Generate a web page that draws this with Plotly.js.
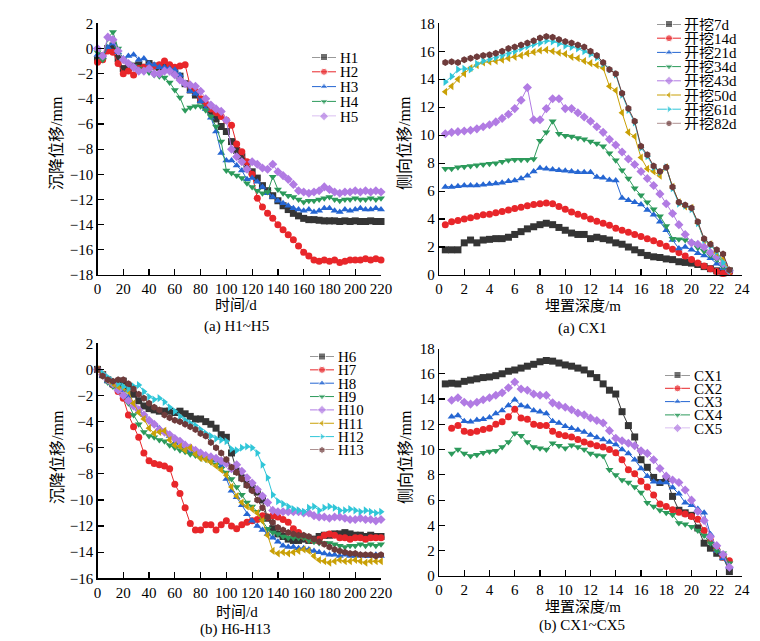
<!DOCTYPE html>
<html><head><meta charset="utf-8">
<script src="https://cdn.plot.ly/plotly-3.0.1.min.js"></script>
<style>html,body{margin:0;padding:0;background:#fff}#c{width:760px;height:641px}</style>
</head><body><div id="c"></div>
<script>
// ---------- data ----------
const days = [0,4,8,12,16,20,24,28,32,36,40,44,48,52,56,60,64,68,72,76,80,84,88,92,96,100,104,108,112,116,120,124,128,132,136,140,144,148,152,156,160,164,168,172,176,180,184,188,192,196,200,204,208,212,216,220];
const H1 = [-0.9,-0.6,0.0,0.2,-0.8,-1.6,-1.5,-1.4,-1.3,-1.5,-1.2,-1.4,-1.5,-1.5,-1.6,-1.8,-2.2,-2.8,-3.3,-3.7,-4.1,-4.5,-5.0,-5.6,-6.2,-6.6,-7.4,-8.1,-8.6,-9.2,-9.8,-10.3,-10.9,-11.3,-11.7,-12.1,-12.5,-12.8,-13.1,-13.3,-13.5,-13.6,-13.6,-13.65,-13.7,-13.7,-13.7,-13.75,-13.7,-13.75,-13.7,-13.75,-13.75,-13.7,-13.75,-13.75];
const H2 = [-1.1,-0.9,-0.2,-0.3,-1.2,-2.0,-1.8,-2.1,-1.6,-1.5,-1.5,-1.4,-1.3,-1.0,-1.3,-1.5,-1.4,-1.3,-3.0,-3.4,-4.0,-4.4,-4.8,-5.1,-5.4,-5.7,-6.1,-7.6,-8.2,-9.0,-10.0,-11.9,-12.6,-13.1,-13.5,-14.0,-14.4,-14.8,-15.2,-15.7,-16.2,-16.5,-16.8,-16.9,-16.8,-16.9,-16.8,-17.0,-16.9,-16.8,-16.8,-16.8,-16.7,-16.8,-16.7,-16.8];
const H3 = [-0.5,-0.7,0.1,0.4,-0.3,-0.8,-0.6,-0.5,-0.9,-0.8,-1.2,-1.3,-1.5,-1.5,-1.6,-1.7,-2.1,-2.8,-3.4,-3.6,-4.2,-4.8,-5.5,-6.6,-8.3,-8.9,-8.9,-9.3,-9.7,-10.4,-10.3,-10.6,-11.0,-11.5,-11.8,-12.1,-12.3,-12.5,-12.7,-12.8,-12.9,-12.8,-13.0,-12.9,-12.7,-12.7,-12.9,-13.0,-12.8,-12.9,-12.8,-12.7,-12.8,-12.8,-12.7,-12.8];
const H4 = [-0.3,-0.9,0.8,1.3,0.0,-0.9,-1.2,-1.4,-1.6,-1.8,-1.9,-2.1,-2.2,-2.3,-2.7,-3.3,-3.9,-4.9,-4.7,-4.6,-4.6,-4.9,-5.4,-6.2,-7.4,-9.7,-9.9,-10.1,-10.3,-10.7,-11.0,-11.3,-11.5,-11.4,-10.2,-11.2,-11.5,-11.7,-11.8,-12.0,-12.2,-12.1,-12.1,-12.0,-11.9,-11.8,-12.0,-12.1,-12.0,-12.0,-11.9,-12.0,-12.0,-11.9,-12.0,-11.9];
const H5 = [0.0,-0.6,0.9,0.7,-0.2,-0.9,-1.2,-1.5,-1.8,-1.8,-1.6,-2.0,-2.0,-1.8,-1.8,-2.1,-2.5,-2.8,-2.9,-3.0,-3.4,-4.0,-4.5,-4.8,-5.0,-5.7,-8.0,-8.6,-9.0,-9.6,-9.0,-9.2,-9.5,-9.6,-9.2,-9.8,-10.1,-10.4,-10.8,-11.3,-11.4,-11.5,-11.4,-11.3,-11.0,-11.2,-11.4,-11.5,-11.4,-11.4,-11.3,-11.4,-11.3,-11.4,-11.3,-11.4];

const H6 = [0,-0.4,-0.8,-1.1,-1.2,-0.9,-1.3,-1.9,-2.4,-2.8,-3.0,-3.1,-3.2,-3.2,-3.2,-3.3,-3.2,-3.4,-3.6,-3.8,-3.8,-4.0,-4.2,-4.5,-5.0,-5.2,-6.4,-7.8,-8.3,-8.8,-9.1,-9.4,-10.0,-11.4,-12.2,-12.6,-12.8,-13.0,-13.1,-13.1,-13.0,-13.1,-13.0,-12.8,-12.7,-12.7,-12.6,-12.6,-12.5,-12.6,-12.7,-12.7,-12.8,-12.7,-12.8,-12.8];
const H7 = [0,-0.4,-0.8,-1.2,-1.7,-2.2,-3.5,-4.4,-5.2,-6.4,-7.0,-7.2,-7.3,-7.4,-7.6,-8.8,-9.5,-10.6,-11.8,-12.3,-12.3,-11.9,-11.9,-12.3,-11.9,-11.6,-12.0,-12.2,-11.9,-11.7,-11.6,-11.5,-11.2,-11.3,-11.2,-11.3,-11.5,-11.7,-12.2,-12.5,-12.8,-13.0,-13.1,-13.0,-12.7,-12.6,-12.7,-12.9,-12.9,-13.0,-12.9,-12.9,-13.0,-12.9,-12.9,-12.9];
const H8 = [0,-0.5,-0.9,-1.2,-1.5,-1.6,-2.1,-2.7,-3.2,-3.5,-3.9,-4.2,-4.5,-4.8,-5.1,-5.6,-5.9,-6.1,-6.3,-6.4,-6.6,-6.7,-6.9,-7.0,-7.4,-8.4,-9.3,-9.8,-10.4,-11.1,-11.6,-12.0,-12.3,-12.6,-12.9,-13.2,-13.5,-13.6,-13.6,-13.7,-13.7,-13.8,-13.9,-14.0,-14.1,-14.2,-14.2,-14.3,-14.2,-14.3,-14.3,-14.2,-14.3,-14.3,-14.2,-14.3];
const H9 = [0,-0.5,-1.0,-1.3,-1.6,-2.0,-2.6,-3.5,-4.2,-4.8,-5.1,-5.2,-5.4,-5.5,-5.8,-6.0,-6.2,-6.3,-6.5,-6.6,-6.8,-6.9,-7.1,-7.3,-7.6,-7.9,-8.4,-9.0,-9.6,-10.2,-10.5,-10.9,-11.6,-12.2,-12.5,-12.6,-12.8,-12.9,-12.9,-12.9,-12.9,-13.1,-13.2,-13.3,-13.3,-13.3,-13.4,-13.5,-13.6,-13.5,-13.5,-13.4,-13.5,-13.4,-13.5,-13.4];
const H10 = [0,-0.4,-0.8,-1.1,-1.6,-2.0,-2.4,-2.8,-3.1,-3.5,-3.9,-4.2,-4.6,-4.8,-5.0,-5.3,-5.5,-5.8,-6.0,-6.2,-6.4,-6.6,-6.7,-6.8,-7.0,-7.2,-7.6,-7.3,-7.8,-8.3,-8.7,-9.2,-9.7,-10.2,-10.8,-10.9,-10.9,-10.9,-10.9,-10.9,-11.0,-11.0,-11.2,-11.3,-11.3,-11.4,-11.3,-11.3,-11.4,-11.5,-11.5,-11.4,-11.5,-11.5,-11.6,-11.5];
const H11 = [0,-0.4,-0.8,-1.1,-1.3,-1.4,-1.7,-2.6,-3.3,-3.8,-4.5,-4.9,-4.8,-4.7,-5.4,-5.8,-5.9,-6.2,-6.0,-6.5,-6.8,-6.9,-7.1,-7.4,-7.7,-8.1,-9.0,-9.7,-10.2,-10.5,-10.7,-11.0,-11.6,-12.7,-13.9,-14.1,-14.0,-14.1,-14.0,-13.9,-13.8,-13.9,-14.3,-14.6,-14.7,-14.8,-14.7,-14.6,-14.7,-14.7,-14.6,-14.7,-14.8,-14.7,-14.7,-14.7];
const H12 = [0,-0.3,-0.6,-0.9,-1.1,-1.3,-1.5,-1.3,-1.2,-1.7,-2.1,-2.3,-2.2,-2.5,-2.9,-3.2,-3.6,-3.9,-4.1,-4.3,-4.6,-4.9,-5.1,-5.3,-5.4,-5.5,-6.1,-6.2,-6.0,-5.9,-6.0,-6.4,-7.3,-8.3,-9.6,-10.1,-10.3,-10.5,-10.7,-10.8,-10.9,-10.6,-10.5,-10.8,-10.6,-10.5,-10.6,-10.8,-10.8,-10.7,-10.8,-10.9,-10.8,-10.9,-11.0,-10.9];
const H13 = [0,-0.5,-0.8,-0.9,-0.8,-0.8,-1.1,-1.5,-1.9,-2.2,-2.6,-2.9,-3.1,-3.5,-3.7,-3.9,-4.0,-4.2,-4.4,-4.6,-4.9,-5.1,-5.6,-6.0,-6.4,-6.9,-7.5,-7.9,-8.4,-8.9,-9.3,-10.0,-10.6,-11.3,-11.7,-12.1,-12.3,-12.5,-12.6,-12.7,-12.7,-12.8,-13.0,-13.2,-13.4,-13.6,-13.8,-13.9,-14.0,-14.1,-14.1,-14.2,-14.2,-14.2,-14.3,-14.2];

const depth = [0.5,1,1.5,2,2.5,3,3.5,4,4.5,5,5.5,6,6.5,7,7.5,8,8.5,9,9.5,10,10.5,11,11.5,12,12.5,13,13.5,14,14.5,15,15.5,16,16.5,17,17.5,18,18.5,19,19.5,20,20.5,21,21.5,22,22.5,23];
const E7  = [1.8,1.8,1.8,2.3,2.5,2.3,2.5,2.55,2.6,2.6,2.7,2.9,3.1,3.3,3.45,3.6,3.7,3.6,3.4,3.2,3.0,2.9,2.9,2.6,2.7,2.6,2.5,2.3,2.2,2.0,1.8,1.6,1.4,1.3,1.25,1.15,1.1,0.95,0.9,0.85,0.75,0.6,0.45,0.3,0.15,0.3];
const E14 = [3.6,3.8,3.9,4.0,4.1,4.2,4.3,4.35,4.45,4.55,4.65,4.75,4.85,4.95,5.05,5.1,5.15,5.1,4.9,4.7,4.5,4.35,4.2,4.0,3.85,3.7,3.55,3.35,3.2,3.05,2.9,2.75,2.6,2.45,2.25,2.05,1.85,1.6,1.35,1.1,0.85,0.65,0.45,0.25,0.1,0.2];
const E21 = [6.3,6.3,6.35,6.4,6.4,6.4,6.45,6.5,6.55,6.6,6.7,6.75,6.9,7.1,7.4,7.65,7.6,7.55,7.5,7.45,7.4,7.35,7.35,7.35,7.0,6.95,6.8,6.75,5.5,5.35,5.2,5.05,4.65,4.3,3.8,3.2,2.5,1.9,2.0,1.8,1.55,1.4,1.2,0.8,0.5,0.3];
const E34 = [7.6,7.6,7.7,7.75,7.8,7.85,7.9,7.95,8.0,8.1,8.2,8.25,8.25,8.25,8.3,9.6,10.2,11.0,10.1,9.95,9.9,9.8,9.7,9.55,9.4,9.2,8.7,8.2,7.5,6.9,6.2,5.7,5.2,4.7,4.2,3.5,2.6,2.55,2.5,2.3,1.95,1.7,1.4,1.1,0.6,0.3];
const E43 = [10.1,10.2,10.25,10.3,10.35,10.45,10.6,10.75,10.95,11.2,11.5,11.9,12.5,13.4,11.1,11.1,11.9,12.6,12.6,11.9,11.9,11.6,11.3,11.0,10.6,10.2,9.7,9.3,8.8,8.3,7.9,7.4,6.9,6.4,5.8,5.1,4.4,3.6,2.9,2.3,2.2,2.0,1.6,1.3,0.8,0.3];
const E50 = [13.1,13.5,14.0,14.4,14.8,15.0,15.2,15.25,15.3,15.4,15.5,15.6,15.7,15.85,15.95,16.05,16.1,16.0,15.9,15.8,15.6,15.5,15.3,15.15,15.0,14.8,13.5,13.2,11.6,10.2,9.9,8.4,7.6,7.4,7.1,7.7,6.3,5.2,4.9,4.8,3.7,2.5,2.2,1.6,1.1,0.3];
const E61 = [13.8,14.2,14.7,14.75,14.7,15.1,15.3,15.45,15.55,15.7,15.85,16.0,16.2,16.35,16.5,16.6,16.75,16.7,16.55,16.4,16.3,16.2,16.0,15.8,15.55,15.1,14.7,14.35,12.9,11.8,10.9,9.1,8.5,7.7,7.35,7.7,6.2,5.1,4.95,4.7,3.7,2.5,2.1,1.7,0.9,0.3];
const E82 = [15.2,15.25,15.2,15.4,15.5,15.6,15.7,15.75,15.85,16.0,16.2,16.3,16.45,16.6,16.75,16.95,17.05,17.0,16.85,16.7,16.6,16.45,16.3,16.0,15.7,15.2,14.7,14.4,13.0,11.9,11.0,9.2,8.6,7.8,7.4,7.7,6.3,5.2,5.0,4.8,3.8,2.6,2.2,1.8,1.5,0.35];

const depthB = [1,1.5,2,2.5,3,3.5,4,4.5,5,5.5,6,6.5,7,7.5,8,8.5,9,9.5,10,10.5,11,11.5,12,12.5,13,13.5,14,14.5,15,15.5,16,16.5,17,17.5,18,18.5,19,19.5,20,20.5,21,21.5,22,22.5,23];
const CX2 = [11.7,11.9,11.45,11.35,11.45,11.6,11.7,12.0,12.2,12.6,13.2,12.5,12.4,12.0,11.9,11.9,11.45,11.2,11.1,11.0,10.8,10.6,10.45,10.3,10.2,10.0,9.75,9.2,8.4,8.1,7.5,7.05,6.4,5.7,5.5,5.25,5.05,4.9,4.7,4.5,3.6,2.8,2.1,1.5,1.2];
const CX3 = [12.6,12.7,12.25,12.2,12.35,12.4,12.55,12.85,13.1,13.5,13.95,13.5,13.4,13.1,13.0,12.85,12.25,12.1,11.85,11.7,11.55,11.4,11.15,10.95,10.8,10.6,10.4,10.0,9.7,9.2,8.5,7.9,7.45,7.4,7.4,7.0,6.5,5.8,5.6,5.3,5.0,3.3,2.0,1.4,0.7];
const CX4 = [9.7,10.0,9.7,9.5,9.6,9.75,9.85,9.9,10.2,10.6,11.3,11.1,10.6,10.2,10.1,10.0,10.5,10.3,10.1,10.35,10.2,10.0,9.7,9.55,9.5,8.4,8.0,7.6,7.4,7.05,6.6,5.8,5.5,5.2,5.0,4.85,4.2,4.1,3.9,3.6,3.2,2.6,2.0,1.8,1.0];
const CX5 = [13.9,14.1,13.75,13.6,13.75,13.95,14.1,14.3,14.5,14.9,15.35,14.8,14.7,14.4,14.3,14.3,13.7,13.5,13.35,13.15,12.9,12.75,12.5,12.3,12.1,11.5,10.9,10.7,10.5,10.3,9.9,9.7,9.2,8.5,7.9,7.6,7.4,6.8,6.0,5.1,4.4,3.1,2.4,1.7,0.7];

const namesTL = ['H1','H2','H3','H4','H5'];
const namesBL = ['H6','H7','H8','H9','H10','H11','H12','H13'];
const namesTR = ['开挖7d','开挖14d','开挖21d','开挖34d','开挖43d','开挖50d','开挖61d','开挖82d'];
const namesBR = ['CX1','CX2','CX3','CX4','CX5'];

// ---------- style ----------
const COL = ['#353535','#e8262a','#2566d2','#2c9a5b','#b17be3','#c9a006','#30c6d8','#6e3b3b'];
const SYM = ['square','circle','triangle-up','triangle-down','diamond','triangle-left','triangle-right','hexagon'];
const SERIF = '"Liberation Serif", "Times New Roman", "Noto Sans CJK SC", serif';
const MS = 7;
const W = 760, H = 641;
const fx = px => px / W, fy = py => 1 - py / H;

const traces = [];
function addSeries(xs, ys, i, xa, ya, name) {
  traces.push({x: xs, y: ys, name: name, type: 'scatter', mode: 'lines+markers', xaxis: xa, yaxis: ya,
    line: {color: COL[i], width: 1}, marker: {symbol: SYM[i], size: MS, color: COL[i]},
    cliponaxis: false, showlegend: false});
}
[H1,H2,H3,H4,H5].forEach((s,i) => addSeries(days, s, i, 'x', 'y', namesTL[i]));
[E7,E14,E21,E34,E43,E50,E61,E82].forEach((s,i) => addSeries(depth, s, i, 'x2', 'y2', namesTR[i]));
[H6,H7,H8,H9,H10,H11,H12,H13].forEach((s,i) => addSeries(days, s, i, 'x3', 'y3', namesBL[i]));
addSeries(depth, E82, 0, 'x4', 'y4', namesBR[0]);
[CX2,CX3,CX4,CX5].forEach((s,i) => addSeries(depthB, s, i+1, 'x4', 'y4', namesBR[i+1]));

function ax(extra) {
  return Object.assign({showline: true, linecolor: '#000', linewidth: 1.2, ticks: 'inside', ticklen: 6,
    tickwidth: 1.2, tickcolor: '#000', showgrid: false, zeroline: false, fixedrange: true,
    tickfont: {family: SERIF, size: 15, color: '#000'}}, extra);
}
const LX = [fx(97.5), fx(381)], RX = [fx(439), fx(742)];
const layout = {
  width: W, height: H, margin: {l: 0, r: 0, t: 0, b: 0}, paper_bgcolor: '#fff', plot_bgcolor: 'rgba(0,0,0,0)',
  showlegend: false, font: {family: SERIF, color: '#000'},
  xaxis: ax({domain: LX, range: [0, 220], dtick: 20, tick0: 0, anchor: 'y'}),
  yaxis: ax({domain: [fy(275), fy(23.3)], range: [-18, 2], dtick: 2, anchor: 'x'}),
  xaxis2: ax({domain: RX, range: [0, 24], dtick: 2, tick0: 0, anchor: 'y2'}),
  yaxis2: ax({domain: [fy(275), fy(23.3)], range: [0, 18], dtick: 2, anchor: 'x2'}),
  xaxis3: ax({domain: LX, range: [0, 220], dtick: 20, tick0: 0, anchor: 'y3'}),
  yaxis3: ax({domain: [fy(578.3), fy(343.3)], range: [-16, 2], dtick: 2, anchor: 'x3'}),
  xaxis4: ax({domain: RX, range: [0, 24], dtick: 2, tick0: 0, anchor: 'y4'}),
  yaxis4: ax({domain: [fy(576), fy(348.5)], range: [0, 18], dtick: 2, anchor: 'x4'}),
  annotations: []
};

// custom legends (sample line + marker on an invisible overlay axis, text as annotation)
function legend(k, names, colorIdx, x0, x1, y0, dy, tx) {
  const n = names.length;
  layout['xaxis' + k] = {domain: [fx(x0), fx(x1)], range: [0, 1], visible: false, fixedrange: true, anchor: 'y' + k};
  layout['yaxis' + k] = {domain: [fy(y0 + dy * (n - 1)), fy(y0)], range: [n - 1, 0], visible: false, fixedrange: true, anchor: 'x' + k};
  names.forEach((nm, i) => {
    const c = colorIdx[i];
    traces.push({x: [0, 0.5, 1], y: [i, i, i], type: 'scatter', mode: 'lines+markers', xaxis: 'x' + k, yaxis: 'y' + k,
      line: {color: COL[c], width: 1}, marker: {symbol: SYM[c], size: [0, MS, 0], color: COL[c]},
      cliponaxis: false, showlegend: false, hoverinfo: 'skip'});
    layout.annotations.push({xref: 'paper', yref: 'paper', x: fx(tx), y: fy(y0 + dy * i), xanchor: 'left', yanchor: 'middle',
      text: nm, showarrow: false, height: 13, borderpad: 0, font: {family: SERIF, size: 15, color: '#000'}});
  });
}
legend(5, namesTL, [0,1,2,3,4], 312, 336, 57, 14.8, 339);
legend(6, namesTR, [0,1,2,3,4,5,6,7], 657, 681, 24, 14.2, 683);
legend(7, namesBL, [0,1,2,3,4,5,6,7], 310, 334, 356.5, 13.35, 337);
legend(8, namesBR, [0,1,2,3,4], 665, 690, 375, 13.3, 693);

function txt(t, px, py, size, angle) {
  layout.annotations.push({xref: 'paper', yref: 'paper', x: fx(px), y: fy(py), xanchor: 'center', yanchor: 'middle',
    text: t, showarrow: false, textangle: angle || 0, borderpad: 0, font: {family: SERIF, size: size, color: '#000'}});
}
txt('沉降位移/mm', 57, 143, 16, -90);
txt('时间/d', 236, 305, 15);
txt('(a) H1~H5', 236, 326, 15);
txt('侧向位移/mm', 405, 143, 16, -90);
txt('埋置深度/m', 583, 306, 15);
txt('(a) CX1', 582, 328, 15);
txt('沉降位移/mm', 57, 457, 16, -90);
txt('时间/d', 237, 612, 15);
txt('(b) H6-H13', 235, 629, 15);
txt('侧向位移/mm', 405, 457, 16, -90);
txt('埋置深度/m', 583, 607, 15);
txt('(b) CX1~CX5', 582, 625, 15);

Plotly.newPlot('c', traces, layout, {displayModeBar: false, staticPlot: true});
</script>
</body></html>
